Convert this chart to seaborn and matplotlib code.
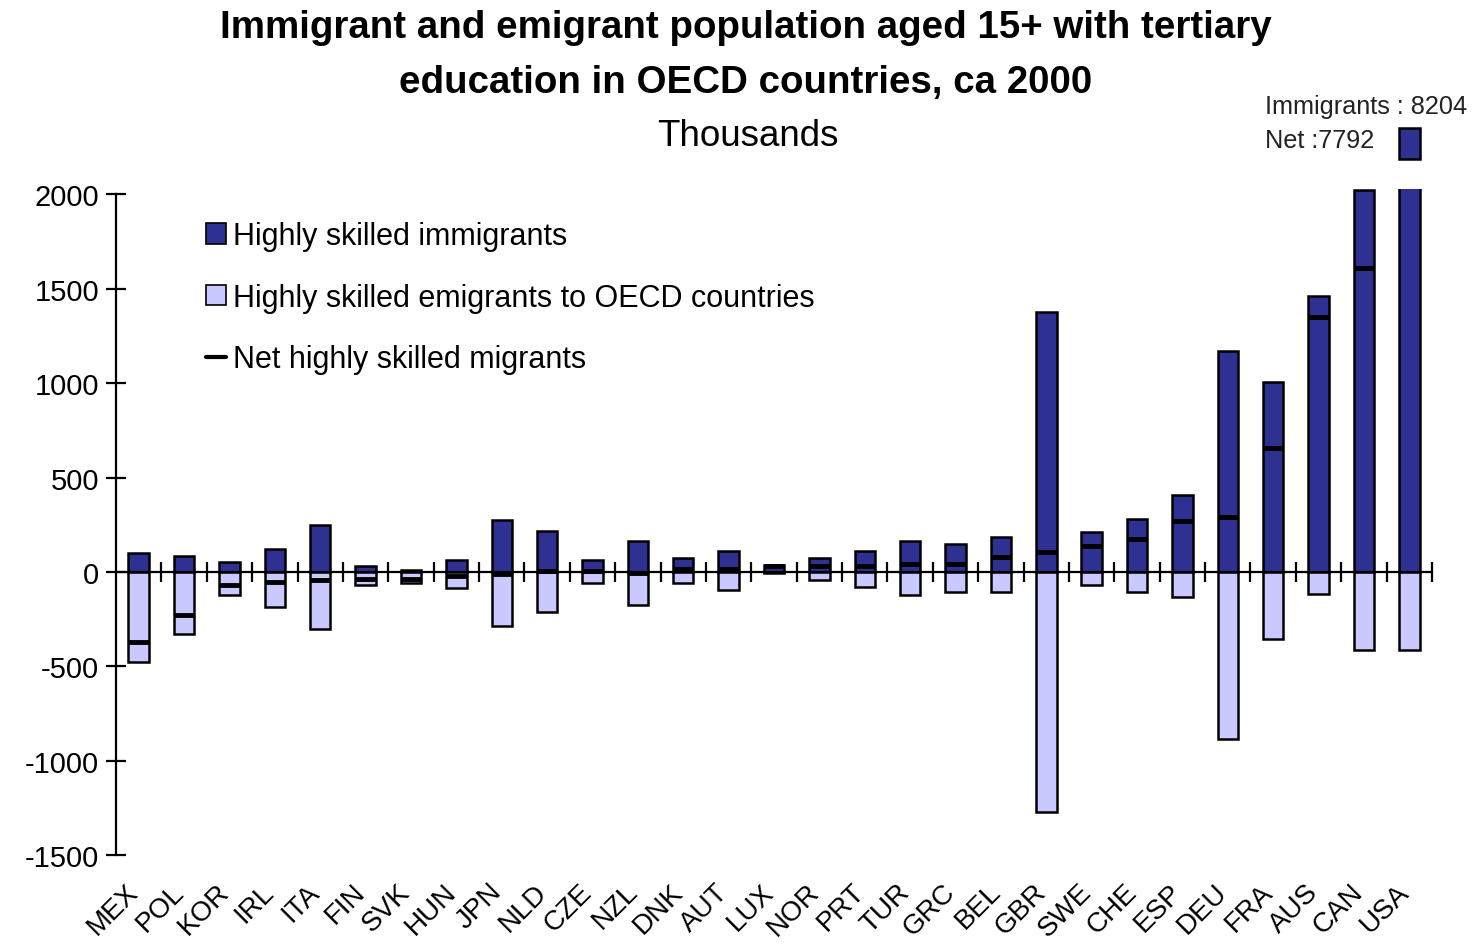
import numpy as np
import matplotlib
matplotlib.use("Agg")
import matplotlib.pyplot as plt
import matplotlib.transforms as mtransforms
from matplotlib.patches import Patch
from matplotlib.lines import Line2D
import seaborn as sns

countries = ["MEX", "POL", "KOR", "IRL", "ITA", "FIN", "SVK", "HUN", "JPN", "NLD",
             "CZE", "NZL", "DNK", "AUT", "LUX", "NOR", "PRT", "TUR", "GRC", "BEL",
             "GBR", "SWE", "CHE", "ESP", "DEU", "FRA", "AUS", "CAN", "USA"]
immigrants = [98, 85, 50, 122, 250, 32, 12, 63, 275, 215,
              63, 164, 74, 111, 37, 74, 111, 164, 148, 185,
              1375, 212, 280, 405, 1170, 1005, 1463, 2024, 8204]
emigrants = [-476, -328, -122, -185, -302, -69, -58, -85, -286, -212,
             -58, -175, -58, -95, -5, -42, -79, -122, -106, -106,
             -1270, -69, -106, -135, -883, -355, -115, -415, -412]
net = [-370, -230, -72, -55, -45, -37, -40, -22, -10, 3,
       5, -8, 16, 16, 30, 32, 32, 42, 42, 79,
       105, 135, 175, 270, 290, 655, 1350, 1609, 7792]

NAVY = "#2E3192"
LILAC = "#C9C9FF"
BAR_W = 0.45
Y_TOP = 2030

sns.set_style("white")
plt.rcParams["font.family"] = ["Liberation Sans", "DejaVu Sans"]
plt.rcParams["axes.unicode_minus"] = False
plt.rcParams["text.color"] = "black"
plt.rcParams["xtick.color"] = "black"
plt.rcParams["ytick.color"] = "black"

fig = plt.figure(figsize=(14.76, 9.45), dpi=100)
ax = fig.add_axes([0.0786, 0.0942, 0.8916, 0.705])

sns.barplot(x=countries, y=immigrants, color=NAVY, saturation=1, width=BAR_W,
            edgecolor="black", linewidth=1.8, ax=ax)
sns.barplot(x=countries, y=emigrants, color=LILAC, saturation=1, width=BAR_W,
            edgecolor="black", linewidth=1.8, ax=ax)

pos = np.arange(len(countries))
ax.hlines(net, pos - BAR_W / 2, pos + BAR_W / 2, colors="black", linewidth=3.5, zorder=5)

ax.set_xlim(-0.5, len(countries) - 0.5)
ax.set_ylim(-1500, Y_TOP)

# broken USA bar: small piece drawn above the plot area
usa = countries.index("USA")
ax.add_patch(plt.Rectangle((usa - BAR_W / 2, 2190), BAR_W, 160, facecolor=NAVY,
                           edgecolor="black", linewidth=1.8, clip_on=False))
ax.text(usa - 3.17, 2530, "Immigrants : {}\nNet :{}".format(immigrants[usa], net[usa]),
        ha="left", va="top", fontsize=18.2, linespacing=1.5, color="#222222")

# axes styling
for s in ["top", "right"]:
    ax.spines[s].set_visible(False)
ax.spines["bottom"].set_position(("data", 0))
ax.spines["left"].set_bounds(-1500, 2000)
for s in ["left", "bottom"]:
    ax.spines[s].set_linewidth(1.6)
    ax.spines[s].set_color("black")
ax.set_yticks([-1500, -1000, -500, 0, 500, 1000, 1500, 2000])
ax.set_xticks(pos + 0.5)
ax.tick_params(axis="x", bottom=True, direction="inout", length=14, width=1.6,
               labelbottom=False)
ax.tick_params(axis="y", left=True, direction="inout", length=14, width=1.6,
               labelsize=21, pad=5)
ax.set_xlabel("")
ax.set_ylabel("")

trans = mtransforms.blended_transform_factory(ax.transData, ax.transAxes)
for i, c in enumerate(countries):
    ax.text(i - 0.3, -0.035, c, transform=trans, rotation=45, ha="right", va="top",
            fontsize=20, rotation_mode="anchor")

handles = [Patch(facecolor=NAVY, edgecolor="black", linewidth=1.2),
           Patch(facecolor=LILAC, edgecolor="black", linewidth=1.2),
           Line2D([0], [0], color="black", linewidth=3)]
labels = ["Highly skilled immigrants", "Highly skilled emigrants to OECD countries",
          "Net highly skilled migrants"]
fig.legend(handles, labels, loc="upper left", bbox_to_anchor=(0.129, 0.781),
           frameon=False, fontsize=22, handlelength=0.65, handleheight=0.65,
           handletextpad=0.25, labelspacing=1.03, borderpad=0)

fig.text(0.505, 0.970, "Immigrant and emigrant population aged 15+ with tertiary",
         ha="center", va="center", fontsize=27.7, fontweight="bold")
fig.text(0.505, 0.912, "education in OECD countries, ca 2000",
         ha="center", va="center", fontsize=27.7, fontweight="bold")
fig.text(0.507, 0.856, "Thousands", ha="center", va="center", fontsize=26.5)

fig.savefig("out.png", dpi=100)
